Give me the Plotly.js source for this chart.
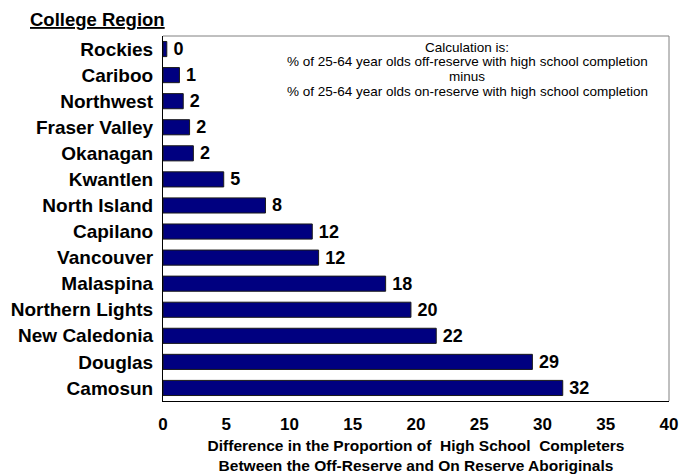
<!DOCTYPE html>
<html>
<head>
<meta charset="utf-8">
<script src="https://cdn.plot.ly/plotly-3.0.1.min.js"></script>
<style>html,body{margin:0;padding:0;background:#fff;}#chart{width:679px;height:474px;}</style>
</head>
<body>
<div id="chart"></div>
<script>
const regions = ["Rockies","Cariboo","Northwest","Fraser Valley","Okanagan","Kwantlen","North Island","Capilano","Vancouver","Malaspina","Northern Lights","New Caledonia","Douglas","Camosun"];
const differences = [0.3,1.3,1.6,2.1,2.4,4.8,8.1,11.8,12.3,17.6,19.6,21.6,29.2,31.6];
const valueLabels = ["0","1","2","2","2","5","8","12","12","18","20","22","29","32"];
const xTicks = [0,5,10,15,20,25,30,35,40];
const noteLines = ["Calculation is:","% of 25-64 year olds off-reserve with high school completion","minus","% of 25-64 year olds on-reserve with high school completion"];

const F = "Arial, 'Liberation Sans', sans-serif";

const trace = {
  type: "bar",
  orientation: "h",
  y: regions,
  x: differences,
  text: valueLabels.map(s => "\u2009" + s),
  textposition: "outside",
  constraintext: "none",
  cliponaxis: false,
  textfont: {family: F, size: 18, color: "#000", weight: "bold"},
  marker: {color: "#000080", line: {color: "#1a1a1a", width: 1}},
  width: 0.58,
  hoverinfo: "none"
};

const annotations = [
  {xref: "paper", yref: "paper", x: -0.267, y: 1.0, xanchor: "left", yanchor: "bottom", yshift: 4,
   text: "<b><u>College Region</u></b>", showarrow: false, font: {family: F, size: 18.5}}
];
noteLines.forEach((t, i) => {
  annotations.push({xref: "paper", yref: "paper", x: 0.601, y: 1, xanchor: "center", yanchor: "middle",
    yshift: -11 - i * 14.8, text: t, showarrow: false, borderpad: 0, font: {family: F, size: 13.5}});
});

const layout = {
  width: 679, height: 474,
  margin: {l: 163, r: 10, t: 36, b: 73},
  paper_bgcolor: "#fff", plot_bgcolor: "#fff",
  showlegend: false,
  font: {family: F, color: "#000"},
  xaxis: {
    range: [0, 40], tickvals: xTicks, ticktext: xTicks.map(String),
    showgrid: false, zeroline: false, showline: true, linecolor: "#000", linewidth: 1,
    ticks: "", ticklen: 0, ticklabelstandoff: 8,
    tickfont: {family: F, size: 17, weight: "bold"},
    title: {text: "Difference in the Proportion of  High School  Completers<br>Between the Off-Reserve and On Reserve Aboriginals",
            font: {family: F, size: 15.5, weight: "bold"}, standoff: 16}
  },
  yaxis: {
    autorange: "reversed", type: "category",
    showgrid: false, zeroline: false, showline: true, linecolor: "#000", linewidth: 1,
    ticks: "", ticklabelstandoff: 5,
    tickfont: {family: F, size: 19, weight: "bold"}
  },
  shapes: [
    {type: "line", xref: "paper", yref: "paper", x0: 0, x1: 1, y0: 1, y1: 1, line: {color: "#808080", width: 1}},
    {type: "line", xref: "paper", yref: "paper", x0: 1, x1: 1, y0: 0, y1: 1, line: {color: "#808080", width: 1}}
  ],
  annotations: annotations
};

Plotly.newPlot("chart", [trace], layout, {displayModeBar: false, staticPlot: true});
</script>
</body>
</html>
